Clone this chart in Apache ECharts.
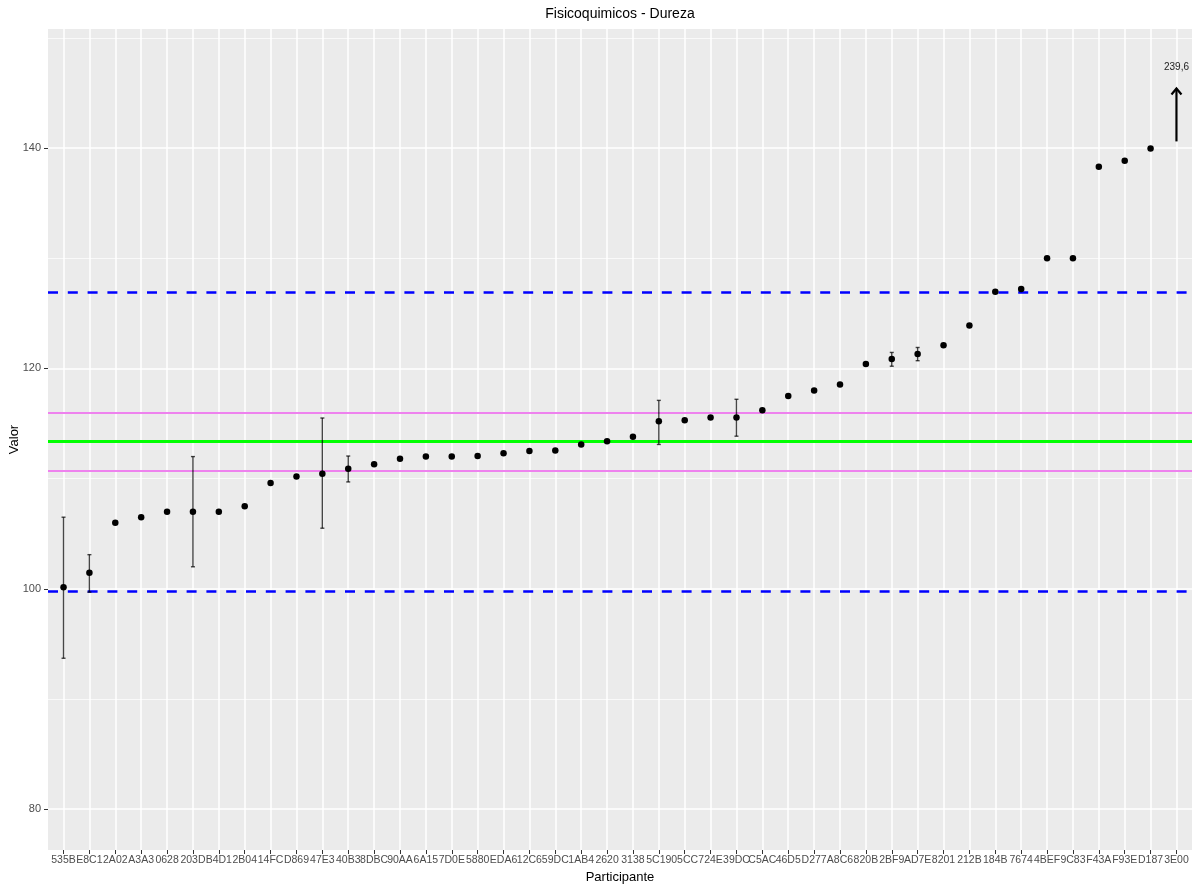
<!DOCTYPE html>
<html>
<head>
<meta charset="utf-8">
<title>Fisicoquimicos - Dureza</title>
<script src="https://cdn.jsdelivr.net/npm/echarts@6/dist/echarts.min.js"></script>
<style>
  html, body { margin: 0; padding: 0; background: #fff; }
  #main { width: 1200px; height: 887px; }
</style>
</head>
<body>
<div id="main"></div>
<script>
// participantes, ordenados por valor
const categories = ['535B', 'E8C1', '2A02', 'A3A3', '0628', '203D', 'B4D1', '2B04', '14FC', 'D869',
  '47E3', '40B3', '8DBC', '90AA', '6A15', '7D0E', '5880', 'EDA6', '12C6', '59DC',
  '1AB4', '2620', '3138', '5C19', '05CC', '724E', '39DC', 'C5AC', '46D5', 'D277',
  'A8C6', '820B', '2BF9', 'AD7E', '8201', '212B', '184B', '7674', '4BEF', '9C83',
  'F43A', 'F93E', 'D187', '3E00'];

const values = [100.15, 101.45, 106.0, 106.5, 107.0, 107.0, 107.0, 107.5, 109.6, 110.2,
  110.45, 110.9, 111.3, 111.8, 112.0, 112.0, 112.05, 112.3, 112.5, 112.55,
  113.1, 113.4, 113.8, 115.2, 115.3, 115.55, 115.55, 116.2, 117.5, 118.0,
  118.55, 120.4, 120.85, 121.3, 122.1, 123.9, 126.95, 127.2, 130.0, 130.0,
  138.3, 138.85, 139.95, 239.6];

// incertidumbre (null = sin barra)
const errLow = [93.7, 99.7, null, null, null, 102.0, null, null, null, null,
  105.5, 109.7, null, null, null, null, null, null, null, null,
  null, null, null, 113.1, null, null, 113.85, null, null, null,
  null, null, 120.2, 120.7, null, null, null, null, null, null,
  null, null, null, null];
const errHigh = [106.5, 103.1, null, null, null, 112.0, null, null, null, null,
  115.5, 112.05, null, null, null, null, null, null, null, null,
  null, null, null, 117.1, null, null, 117.2, null, null, null,
  null, null, 121.45, 121.9, null, null, null, null, null, null,
  null, null, null, null];

const assigned = 113.35;
const innerLimits = [110.75, 116.0];
const outerLimits = [99.75, 126.95];

const yTicks = [80, 100, 120, 140];
const yMinor = [90, 110, 130, 150];

const yMin = 76.3, yMax = 150.8;

const FONT = "'Liberation Sans', Arial, sans-serif";

const idx = categories.map((c, i) => i);
const pointData = values.map((v, i) => [i, v]).filter(d => d[1] <= yMax);
const errData = [];
errLow.forEach((lo, i) => {
  if (lo != null && errHigh[i] != null) errData.push([i, lo, errHigh[i]]);
});
const offData = values.map((v, i) => [i, v]).filter(d => d[1] > yMax);

const chart = echarts.init(document.getElementById('main'));

chart.setOption({
  animation: false,
  backgroundColor: '#ffffff',
  textStyle: { fontFamily: FONT },
  graphic: [{
    type: 'text',
    x: 620,
    y: 7,
    style: {
      text: 'Fisicoquimicos - Dureza',
      font: '14px ' + FONT,
      fill: '#000',
      align: 'center',
      verticalAlign: 'top'
    }
  }],
  grid: {
    left: 48, right: 8, top: 29, bottom: 37,
    outerBoundsMode: 'none',
    containLabel: false,
    show: true, backgroundColor: '#EBEBEB', borderWidth: 0
  },
  xAxis: {
    type: 'value',
    min: -0.6, max: 43.6,
    name: 'Participante',
    nameLocation: 'middle',
    nameGap: 21,
    nameMoveOverlap: false,
    nameTextStyle: { fontSize: 13, color: '#000', fontFamily: FONT },
    axisLine: { show: false, onZero: false },
    axisTick: { show: true, length: 4, customValues: idx, lineStyle: { color: '#333', width: 1 } },
    axisLabel: {
      customValues: idx,
      margin: 5,
      fontSize: 10.5,
      color: '#4D4D4D',
      fontFamily: FONT,
      hideOverlap: false,
      showMinLabel: true,
      showMaxLabel: true,
      formatter: v => categories[Math.round(v)]
    },
    splitLine: { show: true, lineStyle: { color: '#fff', width: 1.5 } }
  },
  yAxis: {
    type: 'value',
    min: yMin, max: yMax,
    name: 'Valor',
    nameLocation: 'middle',
    nameGap: 27,
    nameMoveOverlap: false,
    nameTextStyle: { fontSize: 13, color: '#000', fontFamily: FONT },
    axisLine: { show: false, onZero: false },
    axisTick: { show: true, length: 4, customValues: yTicks, lineStyle: { color: '#333', width: 1 } },
    axisLabel: { customValues: yTicks, margin: 7, fontSize: 11, color: '#4D4D4D', fontFamily: FONT },
    splitLine: { show: true, lineStyle: { color: '#fff', width: 1.5 } }
  },
  series: [
    {
      // rejilla secundaria
      type: 'line',
      data: [],
      z: 1,
      silent: true,
      markLine: {
        z: 1,
        silent: true,
        symbol: 'none',
        label: { show: false },
        lineStyle: { color: '#fff', width: 0.7, type: 'solid' },
        data: yMinor.map(v => ({ yAxis: v }))
      }
    },
    {
      // limites
      type: 'line',
      data: [],
      z: 2,
      silent: true,
      markLine: {
        z: 2,
        silent: true,
        symbol: 'none',
        label: { show: false },
        data: [
          ...outerLimits.map(v => ({ yAxis: v, lineStyle: { color: '#0000FF', width: 2.5, type: [10, 9.8] } })),
          ...innerLimits.map(v => ({ yAxis: v, lineStyle: { color: '#EE82EE', width: 2, type: 'solid' } })),
          { yAxis: assigned, lineStyle: { color: '#00FF00', width: 3, type: 'solid' } }
        ]
      }
    },
    {
      type: 'custom',
      z: 3,
      silent: true,
      data: errData,
      renderItem: (params, api) => {
        const x = api.value(0);
        const lo = api.coord([x, api.value(1)]);
        const hi = api.coord([x, api.value(2)]);
        const st = { stroke: 'rgba(0,0,0,0.72)', lineWidth: 1.4 };
        const h = 2;
        return {
          type: 'group',
          children: [
            { type: 'line', shape: { x1: lo[0], y1: lo[1], x2: hi[0], y2: hi[1] }, style: st },
            { type: 'line', shape: { x1: lo[0] - h, y1: lo[1], x2: lo[0] + h, y2: lo[1] }, style: st },
            { type: 'line', shape: { x1: hi[0] - h, y1: hi[1], x2: hi[0] + h, y2: hi[1] }, style: st }
          ]
        };
      }
    },
    {
      type: 'scatter',
      z: 4,
      silent: true,
      data: pointData,
      symbolSize: 6.5,
      itemStyle: { color: '#000', opacity: 1 }
    },
    {
      // valores fuera de escala: flecha y etiqueta
      type: 'custom',
      z: 4,
      silent: true,
      data: offData,
      renderItem: (params, api) => {
        const x = api.value(0);
        const base = api.coord([x, yMax - 10.2]);
        const tip = api.coord([x, yMax - 5.4]);
        const lab = api.coord([x, yMax - 3.5]);
        const st = { stroke: '#000', lineWidth: 2.2, fill: null };
        return {
          type: 'group',
          children: [
            { type: 'line', shape: { x1: base[0], y1: base[1], x2: tip[0], y2: tip[1] }, style: st },
            { type: 'polyline', shape: { points: [[tip[0] - 5, tip[1] + 6], [tip[0], tip[1]], [tip[0] + 5, tip[1] + 6]] }, style: st },
            {
              type: 'text',
              x: lab[0], y: lab[1],
              style: {
                text: String(api.value(1)).replace('.', ','),
                font: '10px ' + FONT,
                fill: '#222',
                align: 'center',
                verticalAlign: 'middle'
              }
            }
          ]
        };
      }
    }
  ]
});
</script>
</body>
</html>
